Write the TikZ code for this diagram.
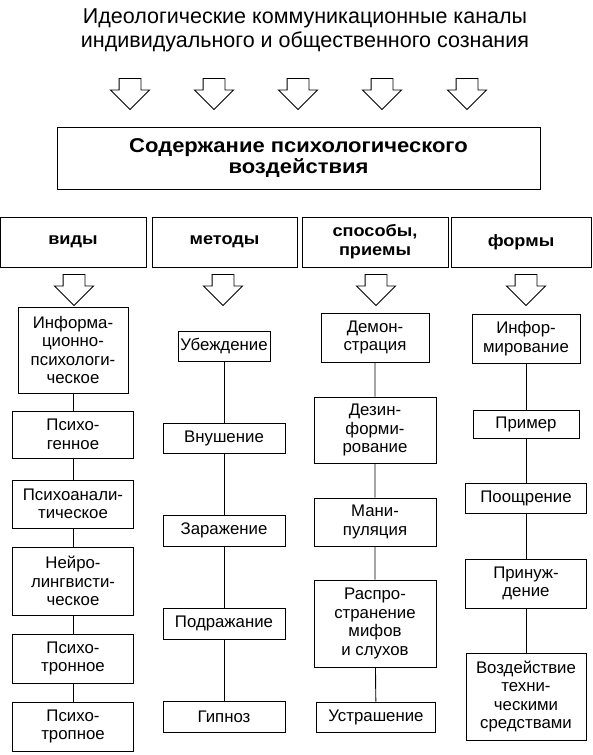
\documentclass[tikz,border=0pt]{standalone}
\usepackage{fontspec}
\setmainfont{Liberation Sans}
\newfontfamily\widefont{Liberation Sans}[FakeStretch=1.1]
\usetikzlibrary{shapes.arrows}

\tikzset{
  box/.style = {draw, line width=0.9pt, align=center, inner sep=0pt,
    font=\fontsize{16.8}{18.5}\selectfont},
  cat/.style = {draw, line width=0.9pt, align=center, inner sep=0pt,
    minimum height=50pt, font=\widefont\bfseries\fontsize{16.5}{19}\selectfont},
  hollow/.style = {draw, line width=0.9pt, single arrow, rotate=-90,
    minimum height=31pt, single arrow head extend=8.5pt,
    inner xsep=0pt, inner ysep=10.5pt}
}

\begin{document}
\begin{tikzpicture}[x=1pt, y=-1pt]
\useasboundingbox (0,0) rectangle (593,755);

% heading and channels
\node[align=center, font=\fontsize{21.5}{24}\selectfont] (title) at (305,30)
  {Идеологические коммуникационные каналы\\индивидуального и общественного сознания};
\foreach \x [count=\i] in {130,214,298,382,467}
  \node[hollow] (a\i) at (\x,88.5) {};

\node[draw, line width=0.9pt, align=center, minimum width=483pt, minimum height=62pt,
  font=\widefont\bfseries\fontsize{20}{19}\selectfont] (main) at (298.5,158)
  {Содержание психологического\\воздействия};

% four groups
\node[cat, minimum width=146pt] (c1) at (73,242) {виды};
\node[cat, minimum width=145pt] (c2) at (224.5,242) {методы};
\node[cat, minimum width=146pt] (c3) at (375,242) {способы,\\приемы};
\node[cat, minimum width=140pt] (c4) at (521,242) {формы};
\foreach \x [count=\i] in {74,223,376,526}
  \node[hollow] (b\i) at (\x,284.5) {};

% виды
\node[box, minimum width=110pt, minimum height=86pt] (v1) at (73,350)
  {Информа-\\ционно-\\психологи-\\ческое};
\node[box, minimum width=121pt, minimum height=47pt] (v2) at (73,434.5) {Психо-\\генное};
\node[box, minimum width=121pt, minimum height=48pt] (v3) at (73,504) {Психоанали-\\тическое};
\node[box, minimum width=121pt, minimum height=68pt] (v4) at (73,581) {Нейро-\\лингвисти-\\ческое};
\node[box, minimum width=121pt, minimum height=49pt] (v5) at (73,658.5) {Психо-\\тронное};
\node[box, minimum width=121pt, minimum height=49pt] (v6) at (73,726.5) {Психо-\\тропное};
\draw[line width=0.9pt] (v1) -- (v2) -- (v3) -- (v4) -- (v5) -- (v6);

% методы
\node[box, minimum width=92pt, minimum height=30pt] (m1) at (224,346) {Убеждение};
\node[box, minimum width=122pt, minimum height=30pt] (m2) at (224,438.5) {Внушение};
\node[box, minimum width=122pt, minimum height=31pt] (m3) at (224,530.5) {Заражение};
\node[box, minimum width=122pt, minimum height=31pt] (m4) at (224,623.5) {Подражание};
\node[box, minimum width=122pt, minimum height=31pt] (m5) at (224,716.5) {Гипноз};
\draw[line width=0.9pt] (m1) -- (m2) -- (m3) -- (m4) -- (m5);

% способы, приемы
\node[box, minimum width=108pt, minimum height=49pt] (s1) at (375,337.5) {Демон-\\страция};
\node[box, minimum width=122pt, minimum height=66pt] (s2) at (375,430) {Дезин-\\форми-\\рование};
\node[box, minimum width=122pt, minimum height=48pt] (s3) at (375,522) {Мани-\\пуляция};
\node[box, minimum width=122pt, minimum height=87pt] (s4) at (375,623.5)
  {Распро-\\странение\\мифов\\и слухов};
\node[box, minimum width=119pt, minimum height=30pt] (s5) at (376,717) {Устрашение};
\draw[line width=0.9pt] (s1) -- (s2) -- (s3) -- (s4) -- (s5);

% формы
\node[box, minimum width=108pt, minimum height=49pt] (f1) at (526,338.5) {Инфор-\\мирование};
\node[box, minimum width=106pt, minimum height=28pt] (f2) at (526,424) {Пример};
\node[box, minimum width=121pt, minimum height=30pt] (f3) at (526,498) {Поощрение};
\node[box, minimum width=121pt, minimum height=49pt] (f4) at (526,583.5) {Принуж-\\дение};
\node[box, minimum width=120pt, minimum height=87pt] (f5) at (526,696.5)
  {Воздействие\\техни-\\ческими\\средствами};
\draw[line width=0.9pt] (f1) -- (f2) -- (f3) -- (f4) -- (f5);
\end{tikzpicture}
\end{document}
